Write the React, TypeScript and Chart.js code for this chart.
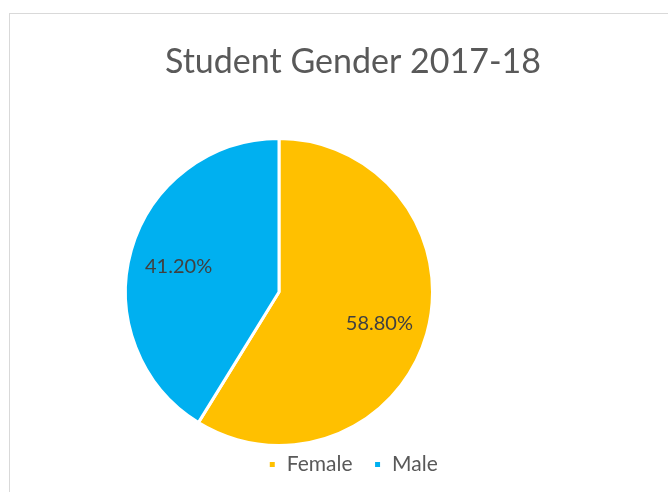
import React, { useEffect, useRef } from "react";
import { Chart, registerables } from "chart.js";

Chart.register(...registerables);

const categories = ["Female", "Male"];
const shares = [58.8, 41.2];
const sliceColors = ["#FFC000", "#00B0F0"];
const chartTitle = "Student Gender 2017-18";

const FONT = "Lato, 'Open Sans', sans-serif";

const pieArea = {
  id: "pieArea",
  afterLayout(chart: any) {
    const a = chart.chartArea;
    a.left = 114;
    a.right = 424;
    a.top = 123;
    a.bottom = 433;
    a.width = a.right - a.left;
    a.height = a.bottom - a.top;
  },
};

const sliceLabels = {
  id: "sliceLabels",
  afterDatasetsDraw(chart: any) {
    const ctx = chart.ctx;
    const meta = chart.getDatasetMeta(0);
    const data = chart.data.datasets[0].data as number[];
    ctx.save();
    ctx.font = `20px ${FONT}`;
    ctx.fillStyle = "#404040";
    ctx.textAlign = "center";
    ctx.textBaseline = "middle";
    meta.data.forEach((arc: any, i: number) => {
      const p = arc.getProps(["x", "y", "startAngle", "endAngle", "outerRadius"], true);
      const mid = (p.startAngle + p.endAngle) / 2;
      const r = p.outerRadius * 0.68;
      ctx.fillText(data[i].toFixed(2) + "%", p.x + Math.cos(mid) * r, p.y + Math.sin(mid) * r + 3);
    });
    ctx.restore();
  },
};

export default function App() {
  const ref = useRef<HTMLCanvasElement>(null);
  useEffect(() => {
    if (!ref.current) return;
    const chart = new Chart(ref.current, {
      type: "pie",
      data: {
        labels: categories,
        datasets: [
          {
            data: shares,
            backgroundColor: sliceColors,
            borderColor: "#ffffff",
            borderWidth: 3,
          },
        ],
      },
      options: {
        responsive: false,
        animation: false,
        layout: { padding: { bottom: 7 } },
        plugins: {
          tooltip: { enabled: false },
          title: {
            display: true,
            text: chartTitle,
            color: "#595959",
            font: { family: FONT, size: 34, weight: "normal" },
            padding: { top: 28, bottom: 20 },
          },
          legend: {
            position: "bottom",
            labels: {
              color: "#595959",
              font: { family: FONT, size: 21 },
              boxWidth: 8,
              boxHeight: 8,
              padding: 21,
            },
          },
        },
      },
      plugins: [pieArea, sliceLabels],
    });
    return () => chart.destroy();
  }, []);
  return (
    <div
      style={{
        position: "fixed",
        left: 0,
        top: 0,
        width: 668,
        height: 492,
        overflow: "hidden",
        background: "#ffffff",
      }}
    >
      <div
        style={{
          position: "absolute",
          left: 9,
          top: 13,
          width: 700,
          height: 520,
          border: "1px solid #d9d9d9",
        }}
      />
      <canvas
        ref={ref}
        width={686}
        height={478}
        style={{ position: "absolute", left: 10, top: 14 }}
      />
    </div>
  );
}
